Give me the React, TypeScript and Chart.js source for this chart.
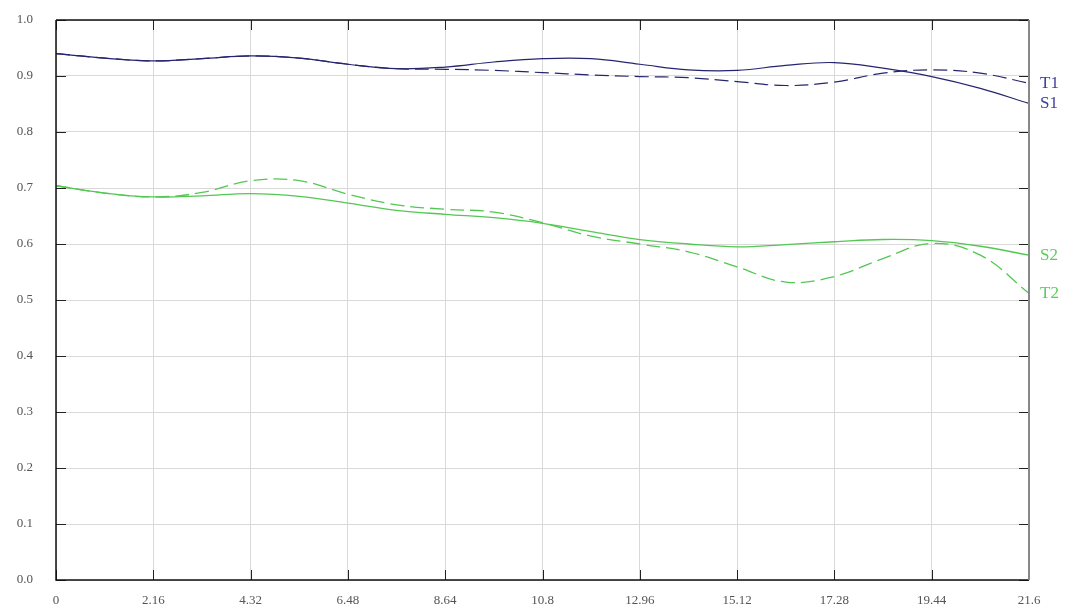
import React, { useEffect, useRef } from 'react';
import { Chart, registerables } from 'chart.js';

Chart.register(...registerables);

const FONT = '"Liberation Serif", "DejaVu Serif", serif';

const xValues = [0, 1.08, 2.16, 3.24, 4.32, 5.4, 6.48, 7.56, 8.64, 9.72, 10.8, 11.88, 12.96, 14.04, 15.12, 16.2, 17.28, 18.36, 19.44, 20.52, 21.6];
const xTicks = [0, 2.16, 4.32, 6.48, 8.64, 10.8, 12.96, 15.12, 17.28, 19.44, 21.6];
const xTickLabels = ['0', '2.16', '4.32', '6.48', '8.64', '10.8', '12.96', '15.12', '17.28', '19.44', '21.6'];
const yTicks = [0, 0.1, 0.2, 0.3, 0.4, 0.5, 0.6, 0.7, 0.8, 0.9, 1.0];

const s1 = [0.940, 0.932, 0.927, 0.931, 0.936, 0.932, 0.921, 0.913, 0.916, 0.925, 0.931, 0.931, 0.921, 0.911, 0.910, 0.919, 0.924, 0.914, 0.899, 0.878, 0.851];
const t1 = [0.940, 0.932, 0.927, 0.931, 0.936, 0.932, 0.921, 0.913, 0.912, 0.910, 0.906, 0.902, 0.899, 0.897, 0.890, 0.883, 0.889, 0.905, 0.911, 0.905, 0.887];
const s2 = [0.704, 0.691, 0.684, 0.686, 0.690, 0.685, 0.673, 0.660, 0.653, 0.647, 0.637, 0.622, 0.608, 0.600, 0.595, 0.599, 0.604, 0.608, 0.606, 0.596, 0.580];
const t2 = [0.704, 0.691, 0.684, 0.692, 0.713, 0.713, 0.689, 0.670, 0.662, 0.657, 0.638, 0.614, 0.600, 0.586, 0.559, 0.532, 0.542, 0.574, 0.601, 0.580, 0.512];

const seriesNames = ['S1', 'T1', 'S2', 'T2'];
const NAVY = '#25256f';
const GREEN = '#52c852';
const NAVY_TEXT = '#40409a';
const GREEN_TEXT = '#5ccc5c';

const toPts = (ys: number[]) => ys.map((v, i) => ({ x: xValues[i], y: v }));

const framePlugin = {
  id: 'frameTicks',
  afterDraw(chart: any) {
    const { ctx, chartArea, scales } = chart;
    const { left, right, top, bottom } = chartArea;
    const xs = scales.x;
    const ys = scales.y;
    ctx.save();
    ctx.lineWidth = 1;
    ctx.strokeStyle = '#222';
    ctx.beginPath();
    yTicks.forEach((v) => {
      const py = Math.round(ys.getPixelForValue(v)) + 0.5;
      ctx.moveTo(left, py);
      ctx.lineTo(left + 10, py);
      ctx.moveTo(right - 10, py);
      ctx.lineTo(right, py);
    });
    xTicks.forEach((v) => {
      const px = Math.round(xs.getPixelForValue(v)) + 0.5;
      ctx.moveTo(px, bottom);
      ctx.lineTo(px, bottom - 10);
      ctx.moveTo(px, top);
      ctx.lineTo(px, top + 10);
    });
    ctx.stroke();
    // frame
    ctx.lineWidth = 1.5;
    ctx.strokeStyle = '#111';
    ctx.beginPath();
    ctx.moveTo(left, top);
    ctx.lineTo(left, bottom);
    ctx.lineTo(right, bottom);
    ctx.moveTo(left, top);
    ctx.lineTo(right, top);
    ctx.stroke();
    ctx.lineWidth = 2;
    ctx.strokeStyle = '#888';
    ctx.beginPath();
    ctx.moveTo(right, top);
    ctx.lineTo(right, bottom);
    ctx.stroke();
    // series end labels
    ctx.font = '17px ' + FONT;
    ctx.textAlign = 'left';
    ctx.textBaseline = 'middle';
    chart.data.datasets.forEach((ds: any) => {
      const last = ds.data[ds.data.length - 1];
      const py = ys.getPixelForValue(last.y);
      ctx.fillStyle = ds.labelColor;
      ctx.fillText(ds.label, right + 11, py);
    });
    ctx.restore();
  },
};

export default function App() {
  const ref = useRef<HTMLCanvasElement>(null);

  useEffect(() => {
    if (!ref.current) return;
    const chart = new Chart(ref.current, {
      type: 'line',
      data: {
        datasets: [
          { label: seriesNames[0], data: toPts(s1), borderColor: NAVY, borderWidth: 1.2, labelColor: NAVY_TEXT } as any,
          { label: seriesNames[1], data: toPts(t1), borderColor: NAVY, borderWidth: 1.2, borderDash: [14, 6], labelColor: NAVY_TEXT } as any,
          { label: seriesNames[2], data: toPts(s2), borderColor: GREEN, borderWidth: 1.3, labelColor: GREEN_TEXT } as any,
          { label: seriesNames[3], data: toPts(t2), borderColor: GREEN, borderWidth: 1.3, borderDash: [14, 6], labelColor: GREEN_TEXT } as any,
        ],
      },
      options: {
        animation: false,
        responsive: true,
        maintainAspectRatio: false,
        layout: { padding: { top: 20, right: 48, left: 0, bottom: 0 } },
        elements: { point: { radius: 0, hoverRadius: 0 }, line: { tension: 0.4, fill: false } },
        plugins: { legend: { display: false }, tooltip: { enabled: false } },
        scales: {
          x: {
            type: 'linear',
            min: 0,
            max: 21.6,
            afterBuildTicks: (scale: any) => {
              scale.ticks = xTicks.map((v) => ({ value: v }));
            },
            afterFit: (scale: any) => {
              scale.height = 33;
              scale.paddingLeft = 0;
              scale.paddingRight = 0;
            },
            grid: { color: '#d9d9d9', lineWidth: 1, drawTicks: false },
            border: { display: false },
            ticks: {
              autoSkip: false,
              maxRotation: 0,
              padding: 13,
              color: '#555',
              font: { family: FONT, size: 13 },
              callback: (v: any) => {
                const i = xTicks.findIndex((t) => Math.abs(t - Number(v)) < 1e-6);
                return i >= 0 ? xTickLabels[i] : '';
              },
            },
          },
          y: {
            type: 'linear',
            min: 0,
            max: 1,
            afterBuildTicks: (scale: any) => {
              scale.ticks = yTicks.map((v) => ({ value: v }));
            },
            afterFit: (scale: any) => {
              scale.width = 56;
              scale.paddingTop = 0;
              scale.paddingBottom = 0;
            },
            grid: { color: '#d9d9d9', lineWidth: 1, drawTicks: false },
            border: { display: false },
            ticks: {
              padding: 23,
              color: '#555',
              font: { family: FONT, size: 13 },
              callback: (v: any) => Number(v).toFixed(1),
            },
          },
        },
      },
      plugins: [framePlugin],
    });
    return () => chart.destroy();
  }, []);

  return (
    <div style={{ position: 'fixed', left: 0, top: 0, width: 1077, height: 613, background: '#fff' }}>
      <canvas ref={ref} />
    </div>
  );
}
